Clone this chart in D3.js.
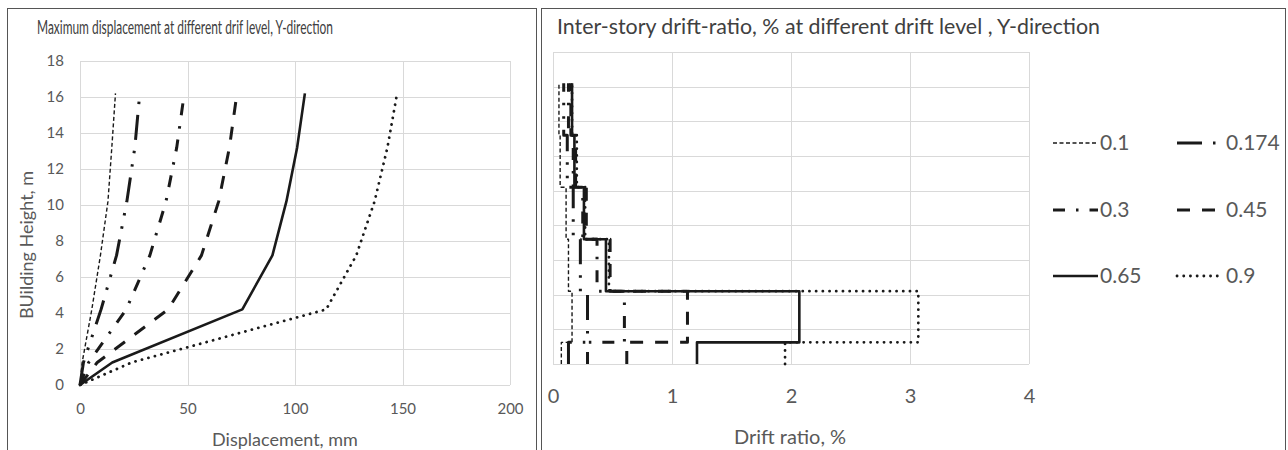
<!DOCTYPE html>
<html>
<head>
<meta charset="utf-8">
<script src="https://cdn.jsdelivr.net/npm/d3@7"></script>
<style>
  body { margin: 0; background: #fff; }
  svg { display: block; }
  text { font-family: Lato, "Open Sans", sans-serif; }
</style>
</head>
<body>
<svg id="chart" width="1288" height="450"></svg>
<script>
// floor levels of the building, m
var heights = [0, 1.25, 4.2, 7.2, 10.2, 13.2, 16.2];
var levels = ['0.1', '0.174', '0.3', '0.45', '0.65', '0.9'];

// maximum displacement, mm, at each level above
var disp01 = [0, 1, 5.5, 9.5, 13, 14.8, 16.5];
var disp0174 = [0, 1.6, 9.8, 17, 21.8, 25.5, 27.8];
var disp03 = [0, 4, 21.5, 32.5, 40, 45, 48.5];
var disp045 = [0, 8, 41, 56.5, 64.5, 69.5, 73];
var disp065 = [0, 15, 75.5, 89.5, 96, 101, 104.6];
var disp09 = [0, 24, 114.5, 128.5, 137, 143, 147.5];

// inter-story drift ratio, %, one value per storey (bottom to top)
var drift01 = [0.07, 0.16, 0.13, 0.11, 0.06, 0.05];
var drift0174 = [0.13, 0.29, 0.23, 0.17, 0.12, 0.09];
var drift03 = [0.29, 0.6, 0.37, 0.25, 0.17, 0.13];
var drift045 = [0.62, 1.13, 0.48, 0.28, 0.19, 0.15];
var drift065 = [1.21, 2.07, 0.445, 0.26, 0.18, 0.16];
var drift09 = [1.95, 3.07, 0.47, 0.27, 0.2, 0.16];

var dispTicks = [0, 50, 100, 150, 200];
var heightTicks = [0, 2, 4, 6, 8, 10, 12, 14, 16, 18];
var driftTicks = [0, 1, 2, 3, 4];

var dispSeries = [disp01, disp0174, disp03, disp045, disp065, disp09];
var driftSeries = [drift01, drift0174, drift03, drift045, drift065, drift09];

// line look for each level, copied from the excel dash types
var lineStyle = {
  '0.1':   { w: 1.4, dash: '4,2.5', cap: 'butt' },
  '0.174': { w: 3, dash: '25,11,2.5,11,2.5,11', cap: 'butt' },
  '0.3':   { w: 3, dash: '12,11,2.5,11', cap: 'butt' },
  '0.45':  { w: 3, dash: '13,12', cap: 'butt' },
  '0.65':  { w: 2.6, dash: null, cap: 'butt' },
  '0.9':   { w: 2.8, dash: '0.1,6.6', cap: 'round' }
};
var ink = '#1a1a1a';
var gridColor = '#d9d9d9';
var labelColor = '#595959';
var titleColor = '#404040';

var svg = d3.select('#chart');

function styleLine(sel, name) {
  var s = lineStyle[name];
  sel.attr('fill', 'none')
    .attr('stroke', ink)
    .attr('stroke-width', s.w)
    .attr('stroke-linecap', s.cap)
    .attr('stroke-linejoin', 'round')
    .attr('stroke-dasharray', s.dash);
}

// panel frames
svg.append('rect').attr('x', 7.5).attr('y', 8.5).attr('width', 529).attr('height', 460)
  .attr('fill', 'none').attr('stroke', '#555');
svg.append('rect').attr('x', 541.5).attr('y', 8.5).attr('width', 744).attr('height', 460)
  .attr('fill', 'none').attr('stroke', '#555');

// ---------- left: displacement ----------
var x1 = d3.scaleLinear().domain([0, 200]).range([80, 510]);
var y1 = d3.scaleLinear().domain([0, 18]).range([385, 61]);
var left = svg.append('g');

left.selectAll('.hg').data(heightTicks).enter().append('line')
  .attr('x1', x1(0)).attr('x2', x1(200))
  .attr('y1', function(d) { return Math.round(y1(d)) + 0.5; })
  .attr('y2', function(d) { return Math.round(y1(d)) + 0.5; })
  .attr('stroke', gridColor);
left.selectAll('.vg').data(dispTicks).enter().append('line')
  .attr('y1', y1(0)).attr('y2', y1(18))
  .attr('x1', function(d) { return Math.round(x1(d)) + 0.5; })
  .attr('x2', function(d) { return Math.round(x1(d)) + 0.5; })
  .attr('stroke', gridColor);

var ax1 = left.append('g').attr('transform', 'translate(0,' + y1(0) + ')')
  .call(d3.axisBottom(x1).tickValues(dispTicks).tickSize(0).tickPadding(18));
var ay1 = left.append('g').attr('transform', 'translate(' + x1(0) + ',0)')
  .call(d3.axisLeft(y1).tickValues(heightTicks).tickSize(0).tickPadding(16));
[ax1, ay1].forEach(function(a) {
  a.select('.domain').remove();
  a.selectAll('text').attr('font-family', 'Lato, sans-serif')
    .attr('font-size', 15).attr('fill', labelColor);
});

var line1 = d3.line()
  .x(function(d) { return x1(d[0]); })
  .y(function(d) { return y1(d[1]); });
dispSeries.forEach(function(vals, i) {
  var pts = vals.map(function(v, k) { return [v, heights[k]]; });
  left.append('path').attr('d', line1(pts)).call(styleLine, levels[i]);
});

left.append('text').attr('x', 37).attr('y', 34)
  .attr('textLength', 296).attr('lengthAdjust', 'spacingAndGlyphs')
  .attr('font-size', 18.5).attr('fill', titleColor)
  .text('Maximum displacement at different drif level, Y-direction');
left.append('text').attr('x', 285).attr('y', 446).attr('text-anchor', 'middle')
  .attr('font-size', 18).attr('fill', labelColor)
  .text('Displacement, mm');
left.append('text').attr('transform', 'translate(33,245) rotate(-90)')
  .attr('text-anchor', 'middle').attr('font-size', 18).attr('fill', labelColor)
  .text('BUilding Height, m');

// ---------- right: drift ratio ----------
var x2 = d3.scaleLinear().domain([0, 4]).range([553, 1029]);
var y2 = d3.scaleLinear().domain([0, 18]).range([364, 52]);
var right = svg.append('g');

right.selectAll('.hg').data(heightTicks).enter().append('line')
  .attr('x1', x2(0)).attr('x2', x2(4))
  .attr('y1', function(d) { return Math.round(y2(d)) + 0.5; })
  .attr('y2', function(d) { return Math.round(y2(d)) + 0.5; })
  .attr('stroke', gridColor);
right.selectAll('.vg').data(driftTicks).enter().append('line')
  .attr('y1', y2(0)).attr('y2', y2(18))
  .attr('x1', function(d) { return Math.round(x2(d)) + 0.5; })
  .attr('x2', function(d) { return Math.round(x2(d)) + 0.5; })
  .attr('stroke', gridColor);

var ax2 = right.append('g').attr('transform', 'translate(0,' + y2(0) + ')')
  .call(d3.axisBottom(x2).tickValues(driftTicks).tickFormat(d3.format('d'))
    .tickSize(0).tickPadding(25));
ax2.select('.domain').remove();
ax2.selectAll('text').attr('font-family', 'Lato, sans-serif')
  .attr('font-size', 20).attr('fill', labelColor);

// each storey is a vertical run from its floor to its ceiling
var line2 = d3.line()
  .x(function(d) { return x2(d[0]); })
  .y(function(d) { return y2(d[1]); });
driftSeries.forEach(function(vals, i) {
  var pts = [];
  vals.forEach(function(v, k) {
    pts.push([v, heights[k]]);
    pts.push([v, heights[k + 1]]);
  });
  right.append('path').attr('d', line2(pts)).call(styleLine, levels[i]);
});

right.append('text').attr('x', 557).attr('y', 34)
  .attr('textLength', 543).attr('lengthAdjust', 'spacingAndGlyphs')
  .attr('font-size', 21).attr('fill', titleColor)
  .text('Inter-story drift-ratio, % at different drift level , Y-direction');
right.append('text').attr('x', 790).attr('y', 444).attr('text-anchor', 'middle')
  .attr('font-size', 20).attr('fill', labelColor)
  .text('Drift ratio, %');

// legend, two columns
var legendCols = [{ x: 1053, len: 45, gap: 2 }, { x: 1177, len: 41, gap: 8 }];
var legendRows = [143, 210, 276];
levels.forEach(function(name, i) {
  var c = legendCols[i % 2];
  var ry = legendRows[Math.floor(i / 2)];
  right.append('line').attr('x1', c.x).attr('x2', c.x + c.len)
    .attr('y1', ry).attr('y2', ry).call(styleLine, name);
  right.append('text').attr('x', c.x + c.len + c.gap).attr('y', ry + 7)
    .attr('font-size', 21).attr('fill', labelColor).text(name);
});
</script>
</body>
</html>
